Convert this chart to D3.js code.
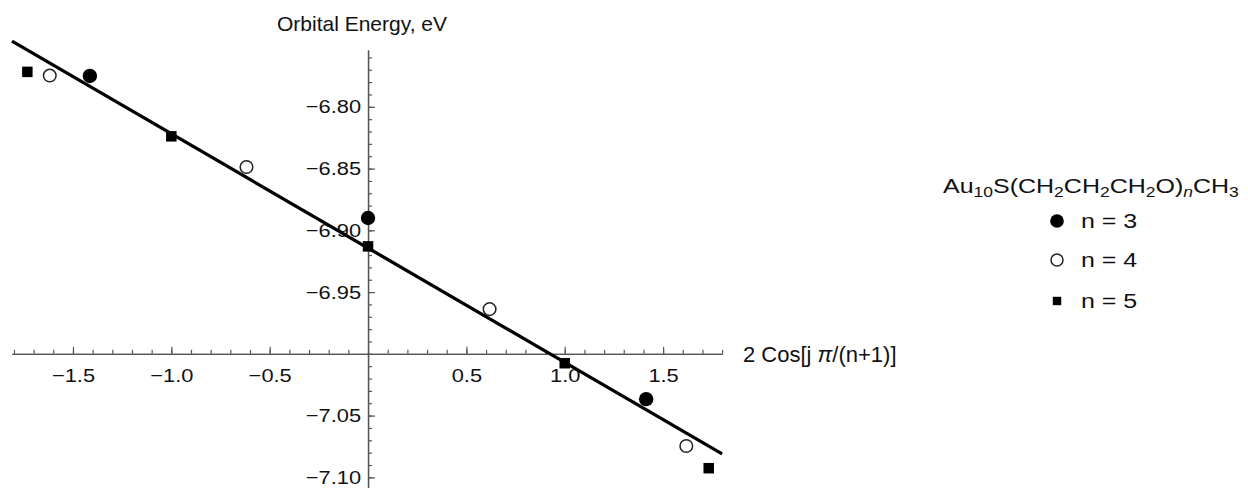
<!DOCTYPE html>
<html>
<head>
<meta charset="utf-8">
<script src="https://cdn.jsdelivr.net/npm/d3@7"></script>
<style>
  html, body { margin: 0; padding: 0; background: #fff; }
  svg { display: block; font-family: "Liberation Sans", Arial, Helvetica, sans-serif; }
</style>
</head>
<body>
<svg id="chart" width="1248" height="488"></svg>
<script>
// x = 2 cos(j*pi/(n+1)), y = orbital energy (eV)
const xN3 = [-1.414, 0, 1.414];
const yN3 = [-6.775, -6.890, -7.0367];
const xN4 = [-1.618, -0.618, 0.618, 1.618];
const yN4 = [-6.7747, -6.8487, -6.9638, -7.0746];
const xN5 = [-1.732, -1.0, 0, 1.0, 1.732];
const yN5 = [-6.7717, -6.8239, -6.9130, -7.0076, -7.0926];

const seriesNames = ["n = 3", "n = 4", "n = 5"];
const xTickValues = [-1.5, -1.0, -0.5, 0.5, 1.0, 1.5];
const yTickValues = [-6.80, -6.85, -6.90, -6.95, -7.05, -7.10];

const series = [
  { name: seriesNames[0], shape: "disc",   pts: xN3.map((x, i) => ({ x, y: yN3[i] })) },
  { name: seriesNames[1], shape: "ring",   pts: xN4.map((x, i) => ({ x, y: yN4[i] })) },
  { name: seriesNames[2], shape: "square", pts: xN5.map((x, i) => ({ x, y: yN5[i] })) }
];

const svg = d3.select("#chart");
const axisColor = "#555";
const textColor = "#111";
const tickFont = 19, tickStretch = 1.15;

const x = d3.scaleLinear().domain([-1.81, 1.80]).range([12, 722.1]);
const y = d3.scaleLinear().domain([-7.11, -6.754]).range([489.7, 50]);

const x0 = x(0), y0 = y(-7.0);

// minor ticks every 0.1 / 0.01
const xMinor = d3.range(-18, 19).map(d => d / 10).filter(v => v >= -1.81 && v <= 1.80);
const yMinor = d3.range(-711, -675).map(d => d / 100);

const gxMinor = svg.append("g").attr("transform", `translate(0,${y0})`)
  .call(d3.axisBottom(x).tickValues(xMinor).tickFormat("").tickSizeInner(-4).tickSizeOuter(0));
const gx = svg.append("g").attr("transform", `translate(0,${y0})`)
  .call(d3.axisBottom(x).tickValues(xTickValues).tickFormat(d3.format(".1f"))
    .tickSizeInner(-7).tickSizeOuter(0).tickPadding(15));

const gyMinor = svg.append("g").attr("transform", `translate(${x0},0)`)
  .call(d3.axisLeft(y).tickValues(yMinor).tickFormat("").tickSizeInner(-4).tickSizeOuter(0));
const gy = svg.append("g").attr("transform", `translate(${x0},0)`)
  .call(d3.axisLeft(y).tickValues(yTickValues).tickFormat(d3.format(".2f"))
    .tickSizeInner(-7).tickSizeOuter(0).tickPadding(7));

[gxMinor, gx, gyMinor, gy].forEach(g => {
  g.selectAll("path.domain").attr("stroke", axisColor).attr("stroke-width", 1.3);
  g.selectAll(".tick line").attr("stroke", axisColor).attr("stroke-width", 1.2);
});
[gx, gy].forEach(g => {
  g.selectAll(".tick text").attr("fill", textColor).attr("font-size", tickFont)
    .attr("font-family", "'Liberation Sans', Arial, sans-serif")
    .attr("transform", `scale(${tickStretch},1)`);
});
gx.selectAll(".tick text").attr("dy", "0.71em");
gy.selectAll(".tick text").attr("x", -7 / tickStretch);

// axis labels
svg.append("text").attr("x", 277).attr("y", 31).attr("font-size", 21).attr("fill", textColor)
  .text("Orbital Energy, eV");
const xl = svg.append("text").attr("x", 743).attr("y", y0 + 8).attr("font-size", 22).attr("fill", textColor);
xl.append("tspan").text("2 Cos[j ");
xl.append("tspan").attr("font-style", "italic").text("π");
xl.append("tspan").text("/(n+1)]");

// least-squares fit line through all points
const all = series.flatMap(s => s.pts);
const mx = d3.mean(all, d => d.x), my = d3.mean(all, d => d.y);
const slope = d3.sum(all, d => (d.x - mx) * (d.y - my)) / d3.sum(all, d => (d.x - mx) ** 2);
const icpt = my - slope * mx;
const fitEnds = x.domain().map(v => ({ x: v, y: icpt + slope * v }));
svg.append("path")
  .attr("d", d3.line().x(d => x(d.x)).y(d => y(d.y))(fitEnds))
  .attr("fill", "none").attr("stroke", "#000").attr("stroke-width", 3.3);

// markers
function drawMarker(g, shape, cx, cy, scale = 1) {
  if (shape === "disc") {
    g.append("circle").attr("cx", cx).attr("cy", cy).attr("r", 7.2 * scale).attr("fill", "#000");
  } else if (shape === "ring") {
    g.append("circle").attr("cx", cx).attr("cy", cy).attr("r", 6.3 * scale)
      .attr("fill", "#fff").attr("stroke", "#222").attr("stroke-width", 1.5);
  } else {
    const s = 10.5 * scale;
    g.append("rect").attr("x", cx - s / 2).attr("y", cy - s / 2).attr("width", s).attr("height", s).attr("fill", "#000");
  }
}
const gm = svg.append("g");
series.forEach(s => s.pts.forEach(p => drawMarker(gm, s.shape, x(p.x), y(p.y))));

// legend
const legendStretch = 1.25;
const lg = svg.append("g");
const lt = lg.append("g").attr("transform", `translate(943,193) scale(${legendStretch},1)`)
  .append("text").attr("font-size", 20).attr("fill", textColor);
let shifted = false;
const part = (t, isSub, italic) => {
  const ts = lt.append("tspan").text(t);
  if (isSub) { ts.attr("font-size", 14).attr("dy", 4); shifted = true; }
  else if (shifted) { ts.attr("dy", -4); shifted = false; }
  if (italic) ts.attr("font-style", "italic");
};
part("Au"); part("10", true);
part("S(CH"); part("2", true);
part("CH"); part("2", true);
part("CH"); part("2", true);
part("O)"); part("n", true, true);
part("CH"); part("3", true);

const legendRowY = [221, 260, 301];
series.forEach((s, i) => {
  drawMarker(lg, s.shape, 1057, legendRowY[i], s.shape === "square" ? 0.8 : 0.95);
  lg.append("g").attr("transform", `translate(1081,${legendRowY[i]}) scale(${legendStretch},1)`)
    .append("text").attr("dy", "0.36em")
    .attr("font-size", 20).attr("fill", textColor).text(s.name);
});
</script>
</body>
</html>
